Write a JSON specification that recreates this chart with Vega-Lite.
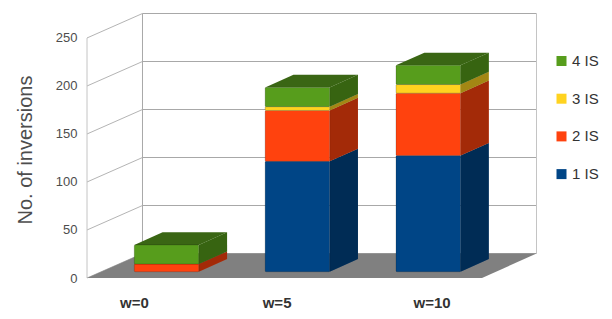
{
"$schema":"https://vega.github.io/schema/vega-lite/v6.json",
"autosize":"none","width":449.5,"height":264.5,
"padding":{"left":87,"top":13.5,"right":75.5,"bottom":41},
"background":"white",
"config":{"view":{"stroke":null},"font":"Liberation Sans"},
"datasets":{
"bars":[
{"w":"w=0","series":"2 IS","count":8},
{"w":"w=0","series":"4 IS","count":20},
{"w":"w=5","series":"1 IS","count":115},
{"w":"w=5","series":"2 IS","count":53},
{"w":"w=5","series":"3 IS","count":4},
{"w":"w=5","series":"4 IS","count":20},
{"w":"w=10","series":"1 IS","count":121},
{"w":"w=10","series":"2 IS","count":65},
{"w":"w=10","series":"3 IS","count":9},
{"w":"w=10","series":"4 IS","count":20}
],
"ticks":[{"v":0},{"v":50},{"v":100},{"v":150},{"v":200},{"v":250}]
},
"layer":[
{"data":{"name":"ticks"},"transform":[{"calculate":"datum.v+25.5","as":"back"},{"calculate":"0.4215","as":"xb"},{"calculate":"3.414","as":"xe"},{"calculate":"0","as":"xa"}],
 "layer":[
 {"mark":{"type":"rule","color":"#a8a8a8","strokeWidth":1},"encoding":{
  "x":{"field":"xb","type":"quantitative","scale":{"domain":[0,3.414],"nice":false,"zero":false},
   "axis":{"title":null,"values":[0.357,1.44,2.617],"labelExpr":"datum.value<1?'w=0':datum.value<2?'w=5':'w=10'","labelFontWeight":"bold","labelFontSize":15,"labelColor":"#333333","labelPadding":17,"ticks":false,"domain":false,"grid":false,"labelOverlap":false}},
  "x2":{"field":"xe"},
  "y":{"field":"back","type":"quantitative","scale":{"domain":[0,275.5],"nice":false,"zero":false},
   "axis":{"title":"No. of inversions","titleFontSize":20,"titleFontWeight":"normal","titleColor":"#4d4d4d","titleX":-52,"titleY":136,"values":[0,50,100,150,200,250],"labelFontSize":13,"labelColor":"#4d4d4d","labelPadding":10,"ticks":false,"domain":false,"grid":false}}
 }},
 {"mark":{"type":"rule","color":"#b4b4b4","strokeWidth":1},"encoding":{
  "x":{"field":"xa","type":"quantitative","scale":{"domain":[0,3.414],"nice":false,"zero":false}},
  "x2":{"field":"xb"},
  "y":{"field":"v","type":"quantitative","scale":{"domain":[0,275.5],"nice":false,"zero":false}},
  "y2":{"field":"back"}
 }},
 {"transform":[{"filter":"datum.v==250"},{"calculate":"0","as":"zero"}],"mark":{"type":"rule","color":"#c4c4c4","strokeWidth":1},"encoding":{
  "x":{"field":"xa","type":"quantitative","scale":{"domain":[0,3.414],"nice":false,"zero":false}},
  "y":{"field":"zero","type":"quantitative","scale":{"domain":[0,275.5],"nice":false,"zero":false}},
  "y2":{"field":"v"}
 }},
 {"transform":[{"filter":"datum.v==250"},{"calculate":"25.5","as":"low"}],"mark":{"type":"rule","color":"#a8a8a8","strokeWidth":1},"encoding":{
  "x":{"field":"xb","type":"quantitative","scale":{"domain":[0,3.414],"nice":false,"zero":false}},
  "y":{"field":"low","type":"quantitative","scale":{"domain":[0,275.5],"nice":false,"zero":false}},
  "y2":{"field":"back"}
 }},
 {"transform":[{"filter":"datum.v==250"},{"calculate":"25.5","as":"low"}],"mark":{"type":"rule","color":"#c4c4c4","strokeWidth":1},"encoding":{
  "x":{"field":"xe","type":"quantitative","scale":{"domain":[0,3.414],"nice":false,"zero":false}},
  "y":{"field":"low","type":"quantitative","scale":{"domain":[0,275.5],"nice":false,"zero":false}},
  "y2":{"field":"back"}
 }}
 ]
},
{"data":{"values":[{"d":0},{"d":1}]},
 "transform":[{"calculate":"datum.d*0.4215","as":"xl"},{"calculate":"3+datum.d*0.414","as":"xr"},{"calculate":"datum.d*25.5","as":"yf"}],
 "mark":{"type":"area","orient":"horizontal","color":"#808080"},
 "encoding":{
  "x":{"field":"xl","type":"quantitative","stack":null,"scale":{"domain":[0,3.414],"nice":false,"zero":false}},
  "x2":{"field":"xr"},
  "y":{"field":"yf","type":"quantitative","scale":{"domain":[0,275.5],"nice":false,"zero":false}}
 }
},
{"data":{"name":"bars"},
 "transform":[
  {"stack":"count","groupby":["w"],"sort":[{"field":"series","order":"ascending"}],"as":["s0","s1"]},
  {"calculate":"indexof(['w=0','w=5','w=10'],datum.w)","as":"i"},
  {"calculate":"0.359+0.994*datum.i","as":"left"},
  {"calculate":"datum.left+0.49","as":"right"},
  {"calculate":"datum.s0+6.5","as":"y0"},
  {"calculate":"datum.s1+6.5","as":"y1"}
 ],
 "layer":[
 {"transform":[
   {"calculate":"datum.right+0.215","as":"rightBack"},
   {"fold":["right","rightBack"],"as":["edge","xs"]},
   {"calculate":"datum.y0+(datum.edge=='rightBack'?13.2:0)","as":"ya"},
   {"calculate":"datum.y1+(datum.edge=='rightBack'?13.2:0)","as":"yb"},
   {"calculate":"datum.w+datum.series","as":"seg"}
  ],
  "layer":[
  {"mark":{"type":"area"},
  "encoding":{
   "x":{"field":"xs","type":"quantitative","scale":{"domain":[0,3.414],"nice":false,"zero":false}},
   "y":{"field":"ya","type":"quantitative","stack":null,"scale":{"domain":[0,275.5],"nice":false,"zero":false}},
   "y2":{"field":"yb"},
   "detail":{"field":"seg"},
   "color":{"field":"series","type":"nominal"}
  }},
  {"mark":{"type":"area","color":"#000000","opacity":0.36},
  "encoding":{
   "x":{"field":"xs","type":"quantitative","scale":{"domain":[0,3.414],"nice":false,"zero":false}},
   "y":{"field":"ya","type":"quantitative","stack":null,"scale":{"domain":[0,275.5],"nice":false,"zero":false}},
   "y2":{"field":"yb"},
   "detail":{"field":"seg"}
  }}
  ]
 },
 {"transform":[
   {"filter":"datum.series=='4 IS'"},
   {"calculate":"0","as":"near"},{"calculate":"1","as":"far"},
   {"fold":["near","far"],"as":["edge","t"]},
   {"calculate":"datum.left+datum.t*0.215","as":"ta"},
   {"calculate":"datum.right+datum.t*0.215","as":"tb"},
   {"calculate":"datum.y1+datum.t*13.2","as":"ty"}
  ],
  "mark":{"type":"area","orient":"horizontal","color":"#3a6614"},
  "encoding":{
   "x":{"field":"ta","type":"quantitative","stack":null,"scale":{"domain":[0,3.414],"nice":false,"zero":false}},
   "x2":{"field":"tb"},
   "y":{"field":"ty","type":"quantitative","scale":{"domain":[0,275.5],"nice":false,"zero":false}},
   "detail":{"field":"w"}
  }
 },
 {"mark":{"type":"bar","stroke":"#000000","strokeOpacity":0.18,"strokeWidth":1,"cornerRadius":1},
  "encoding":{
   "x":{"field":"left","type":"quantitative","scale":{"domain":[0,3.414],"nice":false,"zero":false}},
   "x2":{"field":"right"},
   "y":{"field":"y0","type":"quantitative","scale":{"domain":[0,275.5],"nice":false,"zero":false}},
   "y2":{"field":"y1"},
   "color":{"field":"series","type":"nominal","sort":["4 IS","3 IS","2 IS","1 IS"],
    "scale":{"domain":["4 IS","3 IS","2 IS","1 IS"],"range":["#579d1c","#ffd320","#ff420e","#004586"]},
    "legend":{"title":null,"orient":"none","legendX":467,"legendY":40,"symbolType":"square","symbolSize":100,"symbolStrokeWidth":0,"labelFontSize":15,"labelColor":"#333333","rowPadding":21.7,"labelOffset":3}}
  }
 }
 ]
}
]
}
